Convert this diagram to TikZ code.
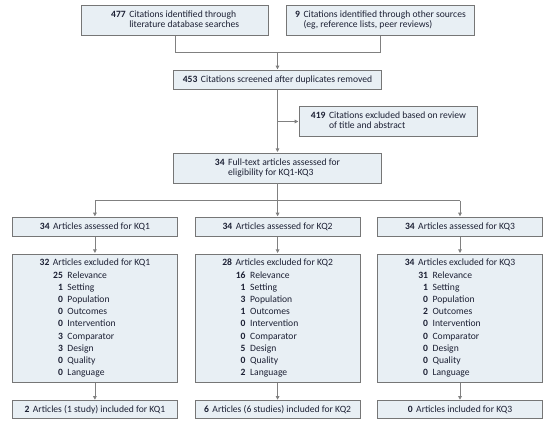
\documentclass[tikz,border=0pt]{standalone}
\usepackage{fontspec}
\setmainfont{Carlito}
\usetikzlibrary{arrows.meta}
\definecolor{boxfill}{RGB}{232,239,244}
\definecolor{boxline}{RGB}{118,118,118}
\definecolor{conline}{RGB}{128,128,128}
\definecolor{txt}{RGB}{28,32,52}
\newcommand{\numlab}[2]{\textbf{#1}\hspace{3.5pt}#2}
\newcommand{\mainrow}[2]{\makebox[36.9pt][r]{\textbf{#1}}\hspace{3.5pt}#2}
\newcommand{\subrow}[2]{\makebox[50.4pt][r]{\textbf{#1}}\hspace{4.6pt}#2}
\begin{document}
\begin{tikzpicture}[x=1pt,y=-1pt,
  box/.style={draw=boxline, fill=boxfill, line width=0.8pt, inner sep=0pt, text=txt,
    font=\fontsize{9.6}{10}\selectfont, align=center},
  colbox/.style={box, minimum width=165.2pt},
  conn/.style={draw=conline, line width=0.8pt},
  arr/.style={conn, -{Triangle[length=3.6pt,width=3.6pt]}, shorten >=0.6pt},
  exlines/.style={inner sep=0pt, anchor=base west, text=txt,
    font=\fontsize{9.6}{12.23}\selectfont}]
\useasboundingbox (0,0) rectangle (552,429);

% top boxes
\node[box, minimum width=187pt, minimum height=30pt] (A) at (175.2,20.3)
  {\begin{tabular}{@{}r@{\hspace{3.5pt}}l@{}}\textbf{477} & Citations identified through\\ & literature database searches\end{tabular}};
\node[box, minimum width=187.6pt, minimum height=30pt] (B) at (380.5,20.3)
  {\begin{tabular}{@{}r@{\hspace{3.5pt}}l@{}}\textbf{9} & Citations identified through other sources\\ & (eg, reference lists, peer reviews)\end{tabular}};
\node[box, minimum width=208.4pt, minimum height=19pt] (C) at (277.5,79.8)
  {\numlab{453}{Citations screened after duplicates removed}};
\node[box, minimum width=178.4pt, minimum height=29.6pt] (D) at (388.5,121.5)
  {\begin{tabular}{@{}r@{\hspace{3.5pt}}l@{}}\textbf{419} & Citations excluded based on review\\ & of title and abstract\end{tabular}};
\node[box, minimum width=208.4pt, minimum height=30pt] (E) at (277.5,168)
  {\begin{tabular}{@{}r@{\hspace{3.5pt}}l@{}}\textbf{34} & Full-text articles assessed for\\ & eligibility for KQ1-KQ3\end{tabular}};

% assessed row
\node[colbox, minimum height=19.4pt] (F1) at (94.9,227) {\numlab{34}{Articles assessed for KQ1}};
\node[colbox, minimum height=19.4pt] (F2) at (277.6,227) {\numlab{34}{Articles assessed for KQ2}};
\node[colbox, minimum height=19.4pt] (F3) at (460,227) {\numlab{34}{Articles assessed for KQ3}};

% excluded row
\node[colbox, minimum height=128.7pt] (G1) at (94.9,318.35) {};
\node[colbox, minimum height=128.7pt] (G2) at (277.6,318.35) {};
\node[colbox, minimum height=128.7pt] (G3) at (460,318.35) {};

\node[exlines] (G1t) at (12.3,265.8) {\begin{tabular}[t]{@{}l@{}}
\mainrow{32}{Articles excluded for KQ1}\\
\subrow{25}{Relevance}\\
\subrow{1}{Setting}\\
\subrow{0}{Population}\\
\subrow{0}{Outcomes}\\
\subrow{0}{Intervention}\\
\subrow{3}{Comparator}\\
\subrow{3}{Design}\\
\subrow{0}{Quality}\\
\subrow{0}{Language}
\end{tabular}};
\node[exlines] (G2t) at (195,265.8) {\begin{tabular}[t]{@{}l@{}}
\mainrow{28}{Articles excluded for KQ2}\\
\subrow{16}{Relevance}\\
\subrow{1}{Setting}\\
\subrow{3}{Population}\\
\subrow{1}{Outcomes}\\
\subrow{0}{Intervention}\\
\subrow{0}{Comparator}\\
\subrow{5}{Design}\\
\subrow{0}{Quality}\\
\subrow{2}{Language}
\end{tabular}};
\node[exlines] (G3t) at (377.4,265.8) {\begin{tabular}[t]{@{}l@{}}
\mainrow{34}{Articles excluded for KQ3}\\
\subrow{31}{Relevance}\\
\subrow{1}{Setting}\\
\subrow{0}{Population}\\
\subrow{2}{Outcomes}\\
\subrow{0}{Intervention}\\
\subrow{0}{Comparator}\\
\subrow{0}{Design}\\
\subrow{0}{Quality}\\
\subrow{0}{Language}
\end{tabular}};

% included row
\node[colbox, minimum height=18pt] (H1) at (94.9,409.7) {\numlab{2}{Articles (1 study) included for KQ1}};
\node[colbox, minimum height=18pt] (H2) at (277.6,409.7) {\numlab{6}{Articles (6 studies) included for KQ2}};
\node[colbox, minimum height=18pt] (H3) at (460,409.7) {\numlab{0}{Articles included for KQ3}};

% connectors
\coordinate (j1) at (277.5,52.3);
\draw[conn] (A.south) |- (j1);
\draw[conn] (B.south) |- (j1);
\draw[arr] (j1) -- (C.north);
\draw[arr] (C.south) -- (E.north);
\coordinate (j2) at (C.south |- D.west);
\draw[arr] (j2) -- (D.west);
\coordinate (j3) at (277.5,200.7);
\draw[conn] (E.south) -- (j3);
\draw[conn] (F1.north |- j3) -- (F3.north |- j3);
\draw[arr] (F1.north |- j3) -- (F1.north);
\draw[arr] (F2.north |- j3) -- (F2.north);
\draw[arr] (F3.north |- j3) -- (F3.north);
\draw[arr] (F1.south) -- (G1.north);
\draw[arr] (F2.south) -- (G2.north);
\draw[arr] (F3.south) -- (G3.north);
\draw[arr] (G1.south) -- (H1.north);
\draw[arr] (G2.south) -- (H2.north);
\draw[arr] (G3.south) -- (H3.north);
\end{tikzpicture}
\end{document}
